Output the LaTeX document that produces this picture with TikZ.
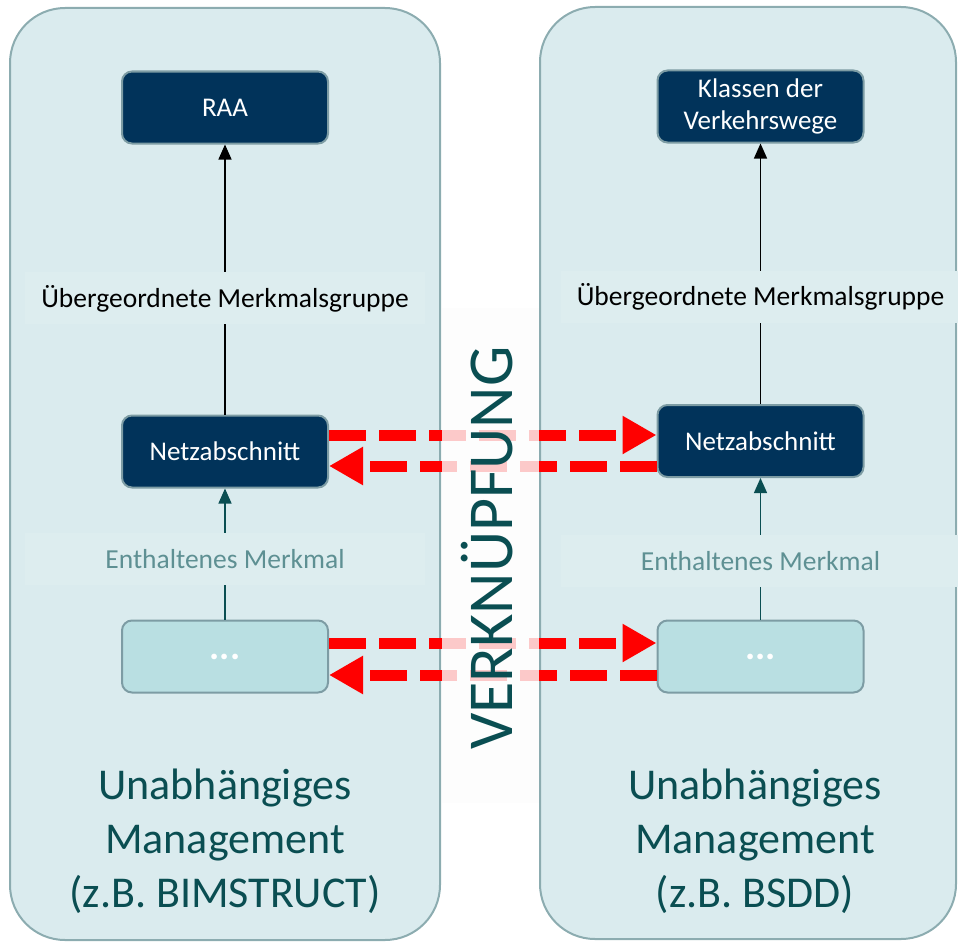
\documentclass[tikz,border=0pt]{standalone}
\usepackage{fontspec}
\setmainfont{Carlito}
\usepackage{xcolor}
\usetikzlibrary{positioning, calc, arrows.meta}

\definecolor{panelfill}{RGB}{218,235,238}
\definecolor{paneledge}{RGB}{140,172,176}
\definecolor{labelband}{RGB}{221,237,239}
\definecolor{navy}{RGB}{1,51,90}
\definecolor{boxedge}{RGB}{125,156,164}
\definecolor{dotsfill}{RGB}{185,223,226}
\definecolor{tealtext}{RGB}{10,78,82}
\definecolor{greyteal}{RGB}{94,144,147}
\definecolor{linkred}{RGB}{255,0,0}

\begin{document}
\begin{tikzpicture}[x=1pt, y=-1pt, >={Triangle[length=15pt,width=13pt]},
    panel/.style={draw=paneledge, line width=2pt, fill=panelfill, rounded corners=55pt,
        minimum width=430pt, minimum height=932pt},
    darkbox/.style={draw=boxedge, line width=2pt, fill=navy, text=white, rounded corners=10pt,
        minimum width=206pt, minimum height=72pt, align=center, font=\fontsize{27}{32}\selectfont},
    dotsbox/.style={darkbox, fill=dotsfill, font=\fontsize{38}{32}\selectfont\bfseries},
    edgelabel/.style={fill=labelband, minimum width=400pt, minimum height=52pt, inner sep=0pt,
        font=\fontsize{27.5}{31}\selectfont},
    link/.style={draw=linkred, line width=11pt, dash pattern=on 37pt off 13pt,
        -{Triangle[length=34pt,width=36pt]}},
    bigtext/.style={text=tealtext, align=center, font=\fontsize{44}{54}\selectfont}]

    \useasboundingbox (0,0) rectangle (958,942);

    % --- The two management panels ---
    \node[panel] (panelL) at (225,474) {};
    \node[panel, minimum width=416pt] (panelR) at (748,473) {};

    % --- Left column ---
    \node[darkbox] (raa) at (225,107.5) {RAA};
    \node[darkbox] (netzL) at (225,451.5) {Netzabschnitt};
    \node[dotsbox] (dotsL) at (225,656.5) {...};

    % --- Right column ---
    \node[darkbox] (klassen) at (760.5,106.5) {Klassen der\\Verkehrswege};
    \node[darkbox] (netzR) at (760.5,441) {Netzabschnitt};
    \node[dotsbox] (dotsR) at (760.5,656.5) {...};

    % --- Vertical relations with their labels ---
    \draw[->, line width=1.3pt] (netzL) -- (raa)
        node[pos=.43, edgelabel] (ubL) {Übergeordnete Merkmalsgruppe};
    \draw[->, line width=1.3pt] (netzR) -- (klassen)
        node[pos=.41, edgelabel] (ubR) {Übergeordnete Merkmalsgruppe};
    \draw[->, line width=1.3pt, draw=tealtext, tealtext] (dotsL) -- (netzL)
        node[pos=.46, edgelabel, text=greyteal] (enL) {Enthaltenes Merkmal};
    \draw[->, line width=1.3pt, draw=tealtext, tealtext] (dotsR) -- (netzR)
        node[pos=.41, edgelabel, text=greyteal] (enR) {Enthaltenes Merkmal};

    % --- Red links between the panels ---
    \draw[link] ([yshift=16.5pt]netzL.east) -- ([yshift=16.5pt]netzL.east -| netzR.west);
    \draw[link] ([yshift=-25pt]netzR.west) -- ([yshift=-25pt]netzR.west -| netzL.east);
    \draw[link] ([yshift=13.5pt]dotsL.east) -- ([yshift=13.5pt]dotsL.east -| dotsR.west);
    \draw[link] ([yshift=-18.5pt]dotsR.west) -- ([yshift=-18.5pt]dotsR.west -| dotsL.east);

    % --- Middle band ---
    \node[fill=black!1, fill opacity=.8, minimum width=97pt, minimum height=495pt,
        inner sep=0pt] (band) at (490,555.5) {};
    \node[rotate=90, anchor=base, text=tealtext, font=\fontsize{64}{70}\selectfont]
        (verk) at (512,548) {VERKNÜPFUNG};

    % --- Panel captions ---
    \node[bigtext] (mgmtL) at (225,841) {Unabhängiges\\Management\\(z.B. BIMSTRUCT)};
    \node[bigtext] (mgmtR) at (755,841) {Unabhängiges\\Management\\(z.B. BSDD)};

\end{tikzpicture}
\end{document}
